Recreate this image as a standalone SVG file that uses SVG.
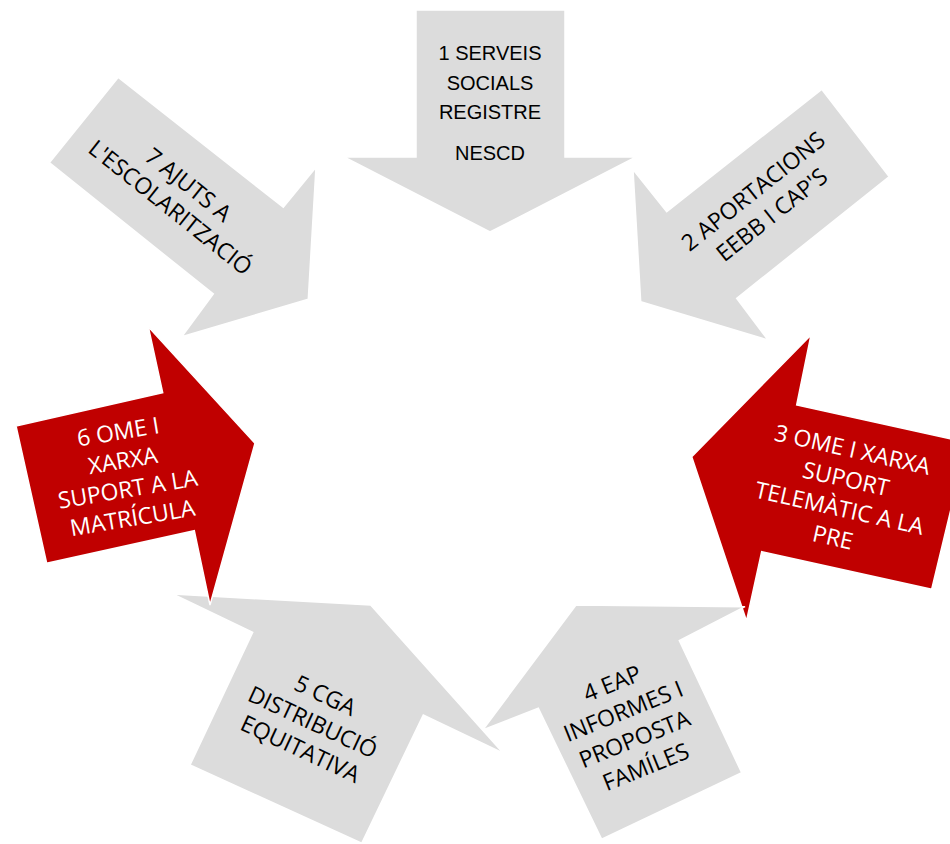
<svg xmlns="http://www.w3.org/2000/svg" width="950" height="844" viewBox="0 0 950 844">
<style>
.g{fill:#DCDCDC;stroke:#FFFFFF;stroke-width:1.5;stroke-linejoin:miter}
.r{fill:#C00000;stroke:#FFFFFF;stroke-width:1.5;stroke-linejoin:miter}
.t{font-family:"Open Sans","Noto Sans","DejaVu Sans",sans-serif;font-size:23px;fill:#000000;text-anchor:middle}
.w{fill:#FFFFFF}
.c{font-family:"Liberation Sans",Arial,sans-serif;font-size:20px;fill:#000000;text-anchor:middle}
</style>
<rect width="950" height="844" fill="#FFFFFF"/>
<g id="arrows">
<g id="n1">
<polygon class="g" points="416,10 565,10 565,157 636,157 490,232 344,157 416,157"/>
<text class="c" x="490" y="60">1 SERVEIS</text>
<text class="c" x="490" y="89.5">SOCIALS</text>
<text class="c" x="490" y="118.5">REGISTRE</text>
<text class="c" x="490" y="160">NESCD</text>
</g>
<g id="n2">
<polygon class="g" points="821.7,89.3 889.3,176.7 736.7,298.3 768,340 640.7,301.7 633,169.5 666.7,211.7"/>
<g transform="translate(762.4,202.9) rotate(-38.5)">
<text class="t" x="0" y="-6.8">2 APORTACIONS</text>
<text class="t" x="0" y="23.2">EEBB I CAP'S</text>
</g>
</g>
<g id="n3">
<polygon class="r" points="811,335 796.7,405 967,442.6 931.7,589.3 761.7,551.7 746.5,621 691.7,456.7"/>
<g transform="translate(842.7,493.4) rotate(12.6)">
<text class="t w" x="0" y="-36.8">3 OME I XARXA</text>
<text class="t w" x="0" y="-6.8">SUPORT</text>
<text class="t w" x="0" y="23.2">TELEMÀTIC A LA</text>
<text class="t w" x="0" y="53.2">PRE</text>
</g>
</g>
<g id="n4">
<polygon class="g" points="576,605 745,606.7 679.3,640.7 741.7,772.7 601.7,839.3 538.3,708.3 482.7,730"/>
<g transform="translate(628.9,725) rotate(-22)">
<text class="t" x="0" y="-36.8">4 EAP</text>
<text class="t" x="0" y="-6.8">INFORMES I</text>
<text class="t" x="0" y="23.2">PROPOSTA</text>
<text class="t" x="0" y="53.2">FAMÍLES</text>
</g>
</g>
<g id="n5">
<polygon class="g" points="172.7,594 370.7,605 503.3,753.3 423.3,715 361.7,843.3 190,765 252.7,632.3"/>
<g transform="translate(312.8,722) rotate(25)">
<text class="t" x="0" y="-21.3">5 CGA</text>
<text class="t" x="0" y="8.2">DISTRIBUCIÓ</text>
<text class="t" x="0" y="37.7">EQUITATIVA</text>
</g>
</g>
<g id="n6">
<polygon class="r" points="148.3,326.7 255,443.3 210,605 194.3,530.7 46.7,563.3 16,426 162.7,392.7"/>
<g transform="translate(125.3,474.8) rotate(-9.5)">
<text class="t w" x="0" y="-35.6">6 OME I</text>
<text class="t w" x="0" y="-6.5">XARXA</text>
<text class="t w" x="0" y="22.6">SUPORT A LA</text>
<text class="t w" x="0" y="51.7">MATRÍCULA</text>
</g>
</g>
<g id="n7">
<polygon class="g" points="118.3,77.3 283.3,207.3 316,167.3 308.3,299.3 181.7,336.7 213.3,294 49.3,162.7"/>
<g transform="translate(179.5,196) rotate(38.5)">
<text class="t" x="0" y="-6.3">7 AJUTS A</text>
<text class="t" x="0" y="22.7">L'ESCOLARITZACIÓ</text>
</g>
</g>
</g>
<g id="connectors"></g>
</svg>
